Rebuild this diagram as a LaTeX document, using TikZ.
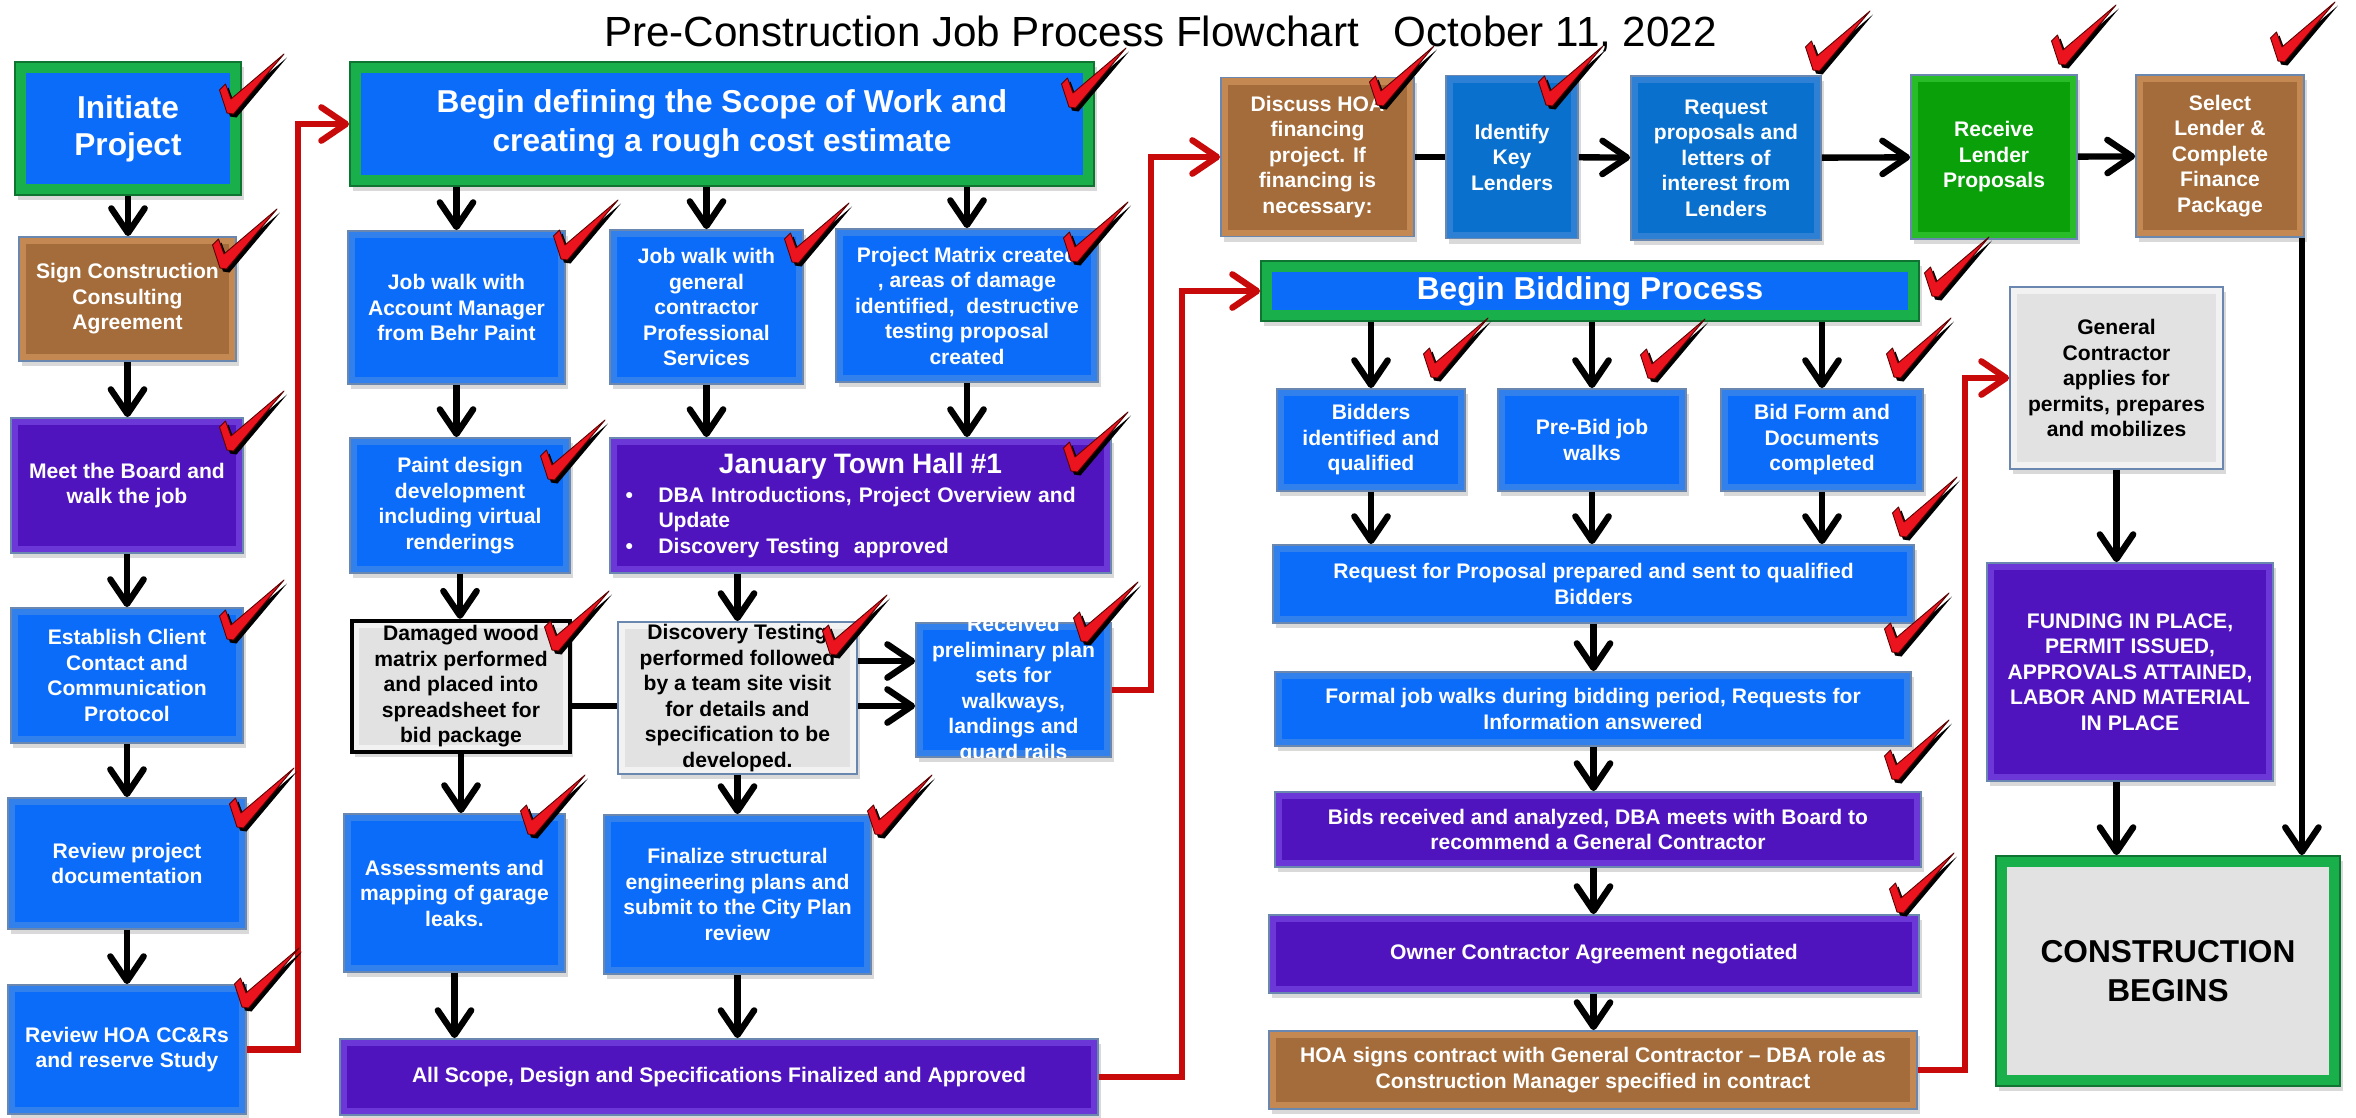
\documentclass[tikz,border=0pt]{standalone}
\usepackage{fontspec}
\setmainfont{Liberation Sans}
\usepackage{tikz}
\usetikzlibrary{arrows.meta,shadows}

\definecolor{mainblue}{RGB}{12,108,250}
\definecolor{bevblue}{RGB}{50,128,235}
\definecolor{edgeblue}{RGB}{105,135,175}
\definecolor{deepblue}{RGB}{10,112,205}
\definecolor{bevdeep}{RGB}{45,128,212}
\definecolor{mainpurple}{RGB}{80,20,190}
\definecolor{bevpurple}{RGB}{108,55,215}
\definecolor{mainbrown}{RGB}{163,108,58}
\definecolor{bevbrown}{RGB}{196,136,82}
\definecolor{maingreen}{RGB}{10,160,10}
\definecolor{bevgreen}{RGB}{40,188,40}
\definecolor{maingray}{RGB}{226,226,226}
\definecolor{bevgray}{RGB}{242,242,242}
\definecolor{framegreen}{RGB}{25,175,75}
\definecolor{framedark}{RGB}{15,115,50}
\definecolor{conred}{RGB}{200,10,10}
\definecolor{tickred}{RGB}{235,20,30}

\begin{document}
\begin{tikzpicture}[>={Straight Barb[length=14pt,width=19pt,round]}, every node/.style={inner sep=1pt},
	inset/.style={path picture={\fill[#1] ([shift={(0.14,0.14)}]path picture bounding box.south west) rectangle ([shift={(-0.14,-0.14)}]path picture bounding box.north east);}},
	greenrim/.style={fill=framegreen, draw=framedark, path picture={\fill[#1] ([shift={(0.22,0.22)}]path picture bounding box.south west) rectangle ([shift={(-0.22,-0.22)}]path picture bounding box.north east);}},
	arr/.style={->, line width=3.6pt},
	redarr/.style={->, draw=conred, line width=3.6pt},
	plainline/.style={line width=3.6pt},
	tick/.pic={\fill[black] (0.06,-0.07) -- (-0.09,0.39) -- (0.03,0.51) -- (0.14,0.21) -- (1.20,1.11) -- (0.19,-0.09) -- cycle;
		\filldraw[fill=tickred, draw=red!35!black, line width=0.5pt, line join=round] (0,0) -- (-0.15,0.46) -- (-0.03,0.58) -- (0.08,0.28) -- (1.14,1.18) -- (0.13,-0.02) -- cycle;}]
	\tikzstyle{boxtext}=[align=center, text=white, font=\bfseries\fontsize{12}{14.5}\selectfont]
	\tikzstyle{box}=[boxtext, rectangle, draw=edgeblue, line width=1pt, drop shadow={opacity=0.3, shadow xshift=0.05cm, shadow yshift=-0.1cm}]
	\tikzstyle{bluebox}=[box, fill=bevblue, inset=mainblue]
	\tikzstyle{deepbox}=[box, fill=bevdeep, inset=deepblue]
	\tikzstyle{purplebox}=[box, fill=bevpurple, inset=mainpurple]
	\tikzstyle{brownbox}=[box, fill=bevbrown, inset=mainbrown]
	\tikzstyle{greenbox}=[box, fill=bevgreen, inset=maingreen]
	\tikzstyle{graybox}=[box, fill=bevgray, inset=maingray, text=black]
	\tikzstyle{headbox}=[box, greenrim=mainblue, font=\bfseries\fontsize{18}{22}\selectfont]
	
	\useasboundingbox (0,0) rectangle (47.12,-22.34);
	
	\node[anchor=base, font=\fontsize{24}{28}\selectfont] (title) at (23.21,-0.93) {Pre-Construction Job Process Flowchart~~~October 11, 2022};
	
	% left column
	\node[headbox, font=\bfseries\fontsize{18}{21}\selectfont, minimum width=4.52cm, minimum height=2.66cm] (init) at (2.56,-2.57) {Initiate\\Project};
	\node[brownbox, minimum width=4.34cm, minimum height=2.48cm] (sign) at (2.55,-5.98) {Sign Construction\\Consulting\\Agreement};
	\node[purplebox, minimum width=4.64cm, minimum height=2.70cm] (meet) at (2.54,-9.71) {Meet the Board and\\walk the job};
	\node[bluebox, minimum width=4.64cm, minimum height=2.70cm] (estab) at (2.54,-13.51) {Establish Client\\Contact and\\Communication\\Protocol};
	\node[bluebox, minimum width=4.76cm, minimum height=2.62cm] (revdoc) at (2.54,-17.27) {Review project\\documentation};
	\node[bluebox, minimum width=4.76cm, minimum height=2.58cm] (revhoa) at (2.54,-20.99) {Review HOA CC\&Rs\\and reserve Study};
	
	% scope of work
	\node[headbox, minimum width=14.88cm, minimum height=2.48cm] (scope) at (14.44,-2.48) {Begin defining the Scope of Work and\\creating a rough cost estimate};
	\node[bluebox, minimum width=4.34cm, minimum height=3.06cm] (jwam) at (9.13,-6.15) {Job walk with\\Account Manager\\from Behr Paint};
	\node[bluebox, minimum width=3.86cm, minimum height=3.08cm] (jwgc) at (14.13,-6.14) {Job walk with\\general\\contractor\\Professional\\Services};
	\node[bluebox, minimum width=5.24cm, minimum height=3.06cm] (matrix) at (19.34,-6.11) {Project Matrix created\\, areas of damage\\identified,~ destructive\\testing proposal\\created};
	\node[bluebox, minimum width=4.40cm, minimum height=2.70cm] (paint) at (9.20,-10.11) {Paint design\\development\\including virtual\\renderings};
	\node[purplebox, minimum width=10.02cm, minimum height=2.70cm, text width=9.4cm, align=left] (townhall) at (17.21,-10.11)
	{\makebox[\linewidth][c]{\fontsize{16}{18}\selectfont January Town Hall \#1}\\[2pt]
		\makebox[0.66cm][l]{\textbullet}DBA Introductions, Project Overview and\\
		\hspace*{0.66cm}Update\\
		\makebox[0.66cm][l]{\textbullet}Discovery Testing~ approved};
	\node[graybox, draw=black, line width=2.5pt, minimum width=4.36cm, minimum height=2.62cm] (damaged) at (9.22,-13.73) {Damaged wood\\matrix performed\\and placed into\\spreadsheet for\\bid package};
	\node[graybox, minimum width=4.78cm, minimum height=3.04cm] (discov) at (14.75,-13.96) {Discovery Testing\\performed followed\\by a team site visit\\for details and\\specification to be\\developed.};
	\node[bluebox, minimum width=3.90cm, minimum height=2.68cm] (received) at (20.27,-13.80) {};
	\begin{scope}
		\clip (received.south west) rectangle (received.north east);
		\node[boxtext] (receivedtxt) at (received.center) {Received\\preliminary plan\\sets for\\walkways,\\landings and\\guard rails};
	\end{scope}
	\node[bluebox, minimum width=4.42cm, minimum height=3.16cm] (assess) at (9.09,-17.86) {Assessments and\\mapping of garage\\leaks.};
	\node[bluebox, minimum width=5.34cm, minimum height=3.18cm] (finalize) at (14.75,-17.89) {Finalize structural\\engineering plans and\\submit to the City Plan\\review};
	\node[purplebox, minimum width=15.16cm, minimum height=1.52cm] (allscope) at (14.38,-21.54) {All Scope, Design and Specifications Finalized and Approved};
	
	% financing
	\node[brownbox, minimum width=3.86cm, minimum height=3.18cm] (discuss) at (26.35,-3.14) {Discuss HOA\\financing\\project. If\\financing is\\necessary:};
	\node[deepbox, minimum width=2.64cm, minimum height=3.26cm] (identify) at (30.24,-3.14) {Identify\\Key\\Lenders};
	\node[deepbox, minimum width=3.80cm, minimum height=3.28cm] (reqprop) at (34.52,-3.16) {Request\\proposals and\\letters of\\interest from\\Lenders};
	\node[greenbox, minimum width=3.32cm, minimum height=3.28cm] (receive) at (39.88,-3.14) {Receive\\Lender\\Proposals};
	\node[brownbox, minimum width=3.36cm, minimum height=3.24cm] (select) at (44.40,-3.12) {Select\\Lender \&\\Complete\\Finance\\Package};
	
	% bidding
	\node[headbox, minimum width=13.16cm, minimum height=1.20cm] (bidding) at (31.80,-5.82) {Begin Bidding Process};
	\node[bluebox, minimum width=3.76cm, minimum height=2.04cm] (bidders) at (27.42,-8.80) {Bidders\\identified and\\qualified};
	\node[bluebox, minimum width=3.76cm, minimum height=2.04cm] (prebid) at (31.84,-8.80) {Pre-Bid job\\walks};
	\node[bluebox, minimum width=4.04cm, minimum height=2.04cm] (bidform) at (36.44,-8.80) {Bid Form and\\Documents\\completed};
	\node[bluebox, minimum width=12.82cm, minimum height=1.56cm] (rfp) at (31.87,-11.68) {Request for Proposal prepared and sent to qualified\\Bidders};
	\node[bluebox, minimum width=12.72cm, minimum height=1.48cm] (formal) at (31.86,-14.18) {Formal job walks during bidding period, Requests for\\Information answered};
	\node[purplebox, minimum width=12.92cm, minimum height=1.50cm] (bidsrec) at (31.96,-16.59) {Bids received and analyzed, DBA meets with Board to\\recommend a General Contractor};
	\node[purplebox, minimum width=13.00cm, minimum height=1.56cm] (owner) at (31.88,-19.08) {Owner Contractor Agreement negotiated};
	\node[brownbox, minimum width=12.96cm, minimum height=1.56cm] (hoasign) at (31.86,-21.40) {HOA signs contract with General Contractor – DBA role as\\Construction Manager specified in contract};
	
	% start of work
	\node[graybox, minimum width=4.26cm, minimum height=3.64cm] (gc) at (42.33,-7.56) {General\\Contractor\\applies for\\permits, prepares\\and mobilizes};
	\node[purplebox, minimum width=5.72cm, minimum height=4.36cm] (funding) at (42.60,-13.44) {FUNDING IN PLACE,\\PERMIT ISSUED,\\APPROVALS ATTAINED,\\LABOR AND MATERIAL\\IN PLACE};
	\node[headbox, greenrim=maingray, text=black, minimum width=6.88cm, minimum height=4.60cm] (constr) at (43.36,-19.42) {CONSTRUCTION\\BEGINS};
	
	% red links
	\coordinate (rl1) at (5.96,0);
	\coordinate (rl2) at (23.02,0);
	\coordinate (rl3) at (23.64,0);
	\coordinate (rl4) at (39.30,0);
	\draw[redarr] (revhoa.east) -| (rl1 |- scope.west) -- (scope.west);
	\draw[redarr] (received.east) -| (rl2 |- discuss.west) -- (discuss.west);
	\draw[redarr] (allscope.east) -| (rl3 |- bidding.west) -- (bidding.west);
	\draw[redarr] (hoasign.east) -| (rl4 |- gc.west) -- (gc.west);
	
	\draw[plainline] (discuss.east) -- (identify.west);
	\draw[plainline] ([yshift=-0.39cm]damaged.east) -- ([yshift=-0.39cm]damaged.east -| discov.west);
	
	\path[arr]
	(init.south) edge (init.south |- sign.north)
	(sign.south) edge (sign.south |- meet.north)
	(meet.south) edge (meet.south |- estab.north)
	(estab.south) edge (estab.south |- revdoc.north)
	(revdoc.south) edge (revdoc.south |- revhoa.north)
	
	(scope.south -| jwam) edge (jwam.north)
	(scope.south -| jwgc) edge (jwgc.north)
	(scope.south -| matrix) edge (matrix.north)
	(jwam.south) edge (jwam.south |- paint.north)
	(jwgc.south) edge (jwgc.south |- townhall.north)
	(matrix.south) edge (matrix.south |- townhall.north)
	(paint.south) edge (paint.south |- damaged.north)
	(townhall.south -| discov) edge (discov.north)
	(damaged.south) edge (damaged.south |- assess.north)
	(discov.south) edge (discov.south |- finalize.north)
	(assess.south) edge (assess.south |- allscope.north)
	(finalize.south) edge (finalize.south |- allscope.north)
	([yshift=0.74cm]discov.east) edge ([yshift=0.74cm]discov.east -| received.west)
	([yshift=-0.16cm]discov.east) edge ([yshift=-0.16cm]discov.east -| received.west)
	
	(identify) edge (reqprop)
	(reqprop) edge (receive)
	(receive) edge (select)
	
	(bidding.south -| bidders) edge (bidders.north)
	(bidding.south -| prebid) edge (prebid.north)
	(bidding.south -| bidform) edge (bidform.north)
	(bidders.south) edge (bidders.south |- rfp.north)
	(prebid.south) edge (prebid.south |- rfp.north)
	(bidform.south) edge (bidform.south |- rfp.north)
	(rfp.south) edge (rfp.south |- formal.north)
	(formal.south -| rfp.south) edge (rfp.south |- bidsrec.north)
	(bidsrec.south -| rfp.south) edge (rfp.south |- owner.north)
	(owner.south -| rfp.south) edge (rfp.south |- hoasign.north)
	
	(gc.south) edge (gc.south |- funding.north)
	(funding.south -| gc.south) edge (gc.south |- constr.north)
	([xshift=-0.06cm]select.south east) edge ([xshift=-0.06cm]select.south east |- constr.north)
	;
	
	% check marks
	\foreach \x/\y in {4.54/-2.26, 4.40/-5.36, 4.54/-9.00, 4.54/-12.78, 4.74/-16.54, 4.84/-20.14,
		21.38/-2.14, 11.22/-5.18, 15.84/-5.24, 21.42/-5.22, 10.96/-9.58, 21.42/-9.42,
		11.04/-13.00, 16.60/-13.08, 21.62/-12.82, 10.56/-16.68, 17.50/-16.68,
		27.54/-2.10, 30.92/-2.10, 36.26/-1.40, 41.18/-1.28, 45.56/-1.22,
		38.64/-5.92, 28.62/-7.54, 32.96/-7.56, 37.88/-7.54, 38.00/-10.72, 37.84/-13.04, 37.84/-15.58, 37.94/-18.24}
	\pic at (\x,\y) {tick};
\end{tikzpicture}
\end{document}
